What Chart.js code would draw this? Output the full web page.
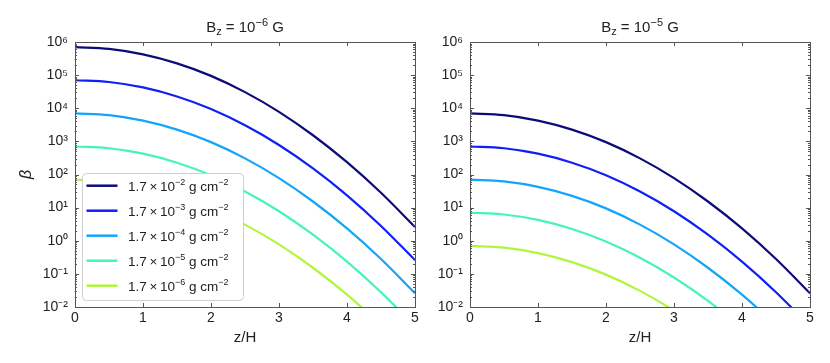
<!DOCTYPE html>
<html><head><meta charset="utf-8">
<script src="https://cdn.jsdelivr.net/npm/chart.js@4/dist/chart.umd.min.js"></script>
<style>
html,body{margin:0;padding:0;background:#fff;overflow:hidden}
#wrap{position:relative;width:830px;height:363px;background:#fff}
canvas{position:absolute;top:0}
#c1{left:0}
#c2{left:420px}
</style></head><body>
<div id="wrap">
<canvas id="c1" width="430" height="363"></canvas>
<canvas id="c2" width="410" height="363"></canvas>
</div>
<script>
// ---- data ----
const zOverH = [0, 0.5, 1, 1.5, 2, 2.5, 3, 3.5, 4, 4.5, 5];
const xTickValues = [0, 1, 2, 3, 4, 5];
const yTickExponents = [-2, -1, 0, 1, 2, 3, 4, 5, 6];
const panelTitles = ['B_{z} = 10^{\u22126} G', 'B_{z} = 10^{\u22125} G'];
const legendLabels = [
  '1.7\u2009\u00d7\u200910^{\u22122} g cm^{\u22122}',
  '1.7\u2009\u00d7\u200910^{\u22123} g cm^{\u22122}',
  '1.7\u2009\u00d7\u200910^{\u22124} g cm^{\u22122}',
  '1.7\u2009\u00d7\u200910^{\u22125} g cm^{\u22122}',
  '1.7\u2009\u00d7\u200910^{\u22126} g cm^{\u22122}'
];
const seriesColors = ['#0c0c78', '#1020f5', '#14a5fa', '#45f5b4', '#b2f53c'];

// left panel (B_z = 1e-6 G)
const betaLeft1 = [7.0e5, 6.2e5, 4.25e5, 2.27e5, 9.5e4, 3.07e4, 7.8e3, 1.53e3, 235, 28, 2.6];
const betaLeft2 = [7.0e4, 6.2e4, 4.25e4, 2.27e4, 9.5e3, 3.07e3, 780, 153, 23.5, 2.8, 0.26];
const betaLeft3 = [7.0e3, 6.2e3, 4.25e3, 2.27e3, 950, 307, 78, 15.3, 2.35, 0.28, 0.026];
const betaLeft4 = [700, 620, 425, 227, 95, 30.7, 7.8, 1.53, 0.235, 0.028, 0.0026];
const betaLeft5 = [70, 62, 42.5, 22.7, 9.5, 3.07, 0.78, 0.153, 0.0235, 0.0028, 0.00026];
// right panel (B_z = 1e-5 G)
const betaRight1 = [7.0e3, 6.2e3, 4.25e3, 2.27e3, 950, 307, 78, 15.3, 2.35, 0.28, 0.026];
const betaRight2 = [700, 620, 425, 227, 95, 30.7, 7.8, 1.53, 0.235, 0.028, 0.0026];
const betaRight3 = [70, 62, 42.5, 22.7, 9.5, 3.07, 0.78, 0.153, 0.0235, 0.0028, 0.00026];
const betaRight4 = [7.0, 6.2, 4.25, 2.27, 0.95, 0.307, 0.078, 0.0153, 0.00235, 0.00028, 0.000026];
const betaRight5 = [0.70, 0.62, 0.425, 0.227, 0.095, 0.0307, 0.0078, 0.00153, 0.000235, 0.000028, 0.0000026];

// ---- helpers ----
const FAM = "'Liberation Sans', Arial, Helvetica, sans-serif";
const TXT = '#222';
const FRAME = '#555';
const SUP = {'-':'\u207b','\u2212':'\u207b','0':'\u2070','1':'\u00b9','2':'\u00b2','3':'\u00b3','4':'\u2074','5':'\u2075','6':'\u2076','7':'\u2077','8':'\u2078','9':'\u2079'};
function supStr(n){ return String(n).split('').map(c => SUP[c] || c).join(''); }

function parseRich(s){
  const out = []; const re = /([_^])\{([^}]*)\}/g; let last = 0, m;
  while ((m = re.exec(s))) {
    if (m.index > last) out.push({t: s.slice(last, m.index), k: 'n'});
    out.push({t: m[2], k: m[1] === '^' ? 'sup' : 'sub'});
    last = re.lastIndex;
  }
  if (last < s.length) out.push({t: s.slice(last), k: 'n'});
  return out;
}
function drawRich(ctx, s, x, y, size, align){
  const segs = parseRich(s);
  const small = Math.round(size * 0.7);
  let w = 0;
  segs.forEach(g => { ctx.font = (g.k === 'n' ? size : small) + 'px ' + FAM; g.w = ctx.measureText(g.t).width; w += g.w; });
  let cx = align === 'center' ? x - w / 2 : x;
  ctx.textBaseline = 'alphabetic'; ctx.textAlign = 'left'; ctx.fillStyle = TXT;
  segs.forEach(g => {
    ctx.font = (g.k === 'n' ? size : small) + 'px ' + FAM;
    const dy = g.k === 'sup' ? -size * 0.4 : (g.k === 'sub' ? size * 0.22 : 0);
    ctx.fillText(g.t, cx, y + dy);
    cx += g.w;
  });
}

const framePlugin = {
  id: 'frameTicks',
  afterDatasetsDraw(chart){
    const {ctx, chartArea: a, scales: {x, y}} = chart;
    ctx.save();
    ctx.strokeStyle = FRAME; ctx.lineWidth = 1;
    ctx.strokeRect(Math.round(a.left) + 0.5, Math.round(a.top) + 0.5, Math.round(a.right - a.left), Math.round(a.bottom - a.top));
    ctx.beginPath();
    xTickValues.forEach(v => {
      const px = Math.round(x.getPixelForValue(v)) + 0.5;
      ctx.moveTo(px, a.bottom); ctx.lineTo(px, a.bottom - 4);
      ctx.moveTo(px, a.top); ctx.lineTo(px, a.top + 4);
    });
    yTickExponents.forEach(e => {
      const py = Math.round(y.getPixelForValue(Math.pow(10, e))) + 0.5;
      ctx.moveTo(a.left, py); ctx.lineTo(a.left + 4, py);
      ctx.moveTo(a.right, py); ctx.lineTo(a.right - 4, py);
      if (e < yTickExponents[yTickExponents.length - 1]) {
        for (let m = 2; m <= 9; m++) {
          const q = Math.round(y.getPixelForValue(m * Math.pow(10, e))) + 0.5;
          ctx.moveTo(a.left, q); ctx.lineTo(a.left + 2, q);
          ctx.moveTo(a.right, q); ctx.lineTo(a.right - 2, q);
        }
      }
    });
    ctx.stroke();
    ctx.restore();
  }
};

const titlePlugin = {
  id: 'richTitle',
  afterDraw(chart, args, opts){
    const a = chart.chartArea;
    chart.ctx.save();
    drawRich(chart.ctx, opts.text, (a.left + a.right) / 2, 32, 15, 'center');
    chart.ctx.restore();
  }
};

const legendPlugin = {
  id: 'insetLegend',
  afterDatasetsDraw(chart, args, opts){
    if (!opts.show) return;
    const ctx = chart.ctx;
    const bx = 82, by = 173, bw = 161, bh = 127;
    ctx.save();
    ctx.beginPath();
    if (ctx.roundRect) ctx.roundRect(bx + 0.5, by + 0.5, bw, bh, 4); else ctx.rect(bx + 0.5, by + 0.5, bw, bh);
    ctx.fillStyle = 'rgba(255,255,255,1)'; ctx.fill();
    ctx.strokeStyle = '#cfcfcf'; ctx.lineWidth = 1; ctx.stroke();
    chart.data.datasets.forEach((ds, i) => {
      const cy = 185.7 + i * 25;
      ctx.strokeStyle = ds.borderColor; ctx.lineWidth = 2.5;
      ctx.beginPath(); ctx.moveTo(86.5, cy); ctx.lineTo(117.5, cy); ctx.stroke();
      drawRich(ctx, ds.label, 128, cy + 4.8, 13.5, 'left');
    });
    ctx.restore();
  }
};

function makeChart(id, seriesList, title, yWidth, padRight, showYTitle, showLegend){
  return new Chart(document.getElementById(id), {
    type: 'line',
    data: {
      datasets: seriesList.map((vals, i) => ({
        label: legendLabels[i],
        data: zOverH.map((z, k) => ({x: z, y: vals[k]})),
        borderColor: seriesColors[i],
        backgroundColor: seriesColors[i],
        borderWidth: 2.2,
        pointRadius: 0,
        fill: false,
        cubicInterpolationMode: 'monotone'
      }))
    },
    options: {
      responsive: false,
      animation: false,
      events: [],
      layout: {padding: {top: 42, right: padRight, left: 0, bottom: 0}},
      plugins: {
        legend: {display: false},
        tooltip: {enabled: false},
        richTitle: {text: title},
        insetLegend: {show: showLegend}
      },
      scales: {
        x: {
          type: 'linear', min: 0, max: 5,
          afterBuildTicks: s => { s.ticks = xTickValues.map(v => ({value: v})); },
          afterFit: s => { s.height = 56; },
          grid: {display: false, drawTicks: false},
          border: {display: false},
          ticks: {padding: 3, color: TXT, font: {family: FAM, size: 14}, maxRotation: 0,
                  callback: v => String(v)},
          title: {display: true, text: 'z/H', color: TXT, font: {family: FAM, size: 15}, padding: {top: 0, bottom: 16}}
        },
        y: {
          type: 'logarithmic', min: 1e-2, max: 1e6,
          afterBuildTicks: s => { s.ticks = yTickExponents.map(e => ({value: Math.pow(10, e)})); },
          afterFit: s => { s.width = yWidth; },
          grid: {display: false, drawTicks: false},
          border: {display: false},
          ticks: {padding: 7, color: TXT, font: {family: FAM, size: 14},
                  callback: v => '10' + supStr(Math.round(Math.log10(v)))},
          title: {display: showYTitle, text: '\u03b2', color: TXT, font: {family: FAM, size: 16, style: 'italic'}, padding: {top: 17, bottom: 0}}
        }
      }
    },
    plugins: [framePlugin, titlePlugin, legendPlugin]
  });
}

makeChart('c1', [betaLeft1, betaLeft2, betaLeft3, betaLeft4, betaLeft5], panelTitles[0], 75, 15, true, true);
makeChart('c2', [betaRight1, betaRight2, betaRight3, betaRight4, betaRight5], panelTitles[1], 50, 20, false, false);
</script>
</body></html>
